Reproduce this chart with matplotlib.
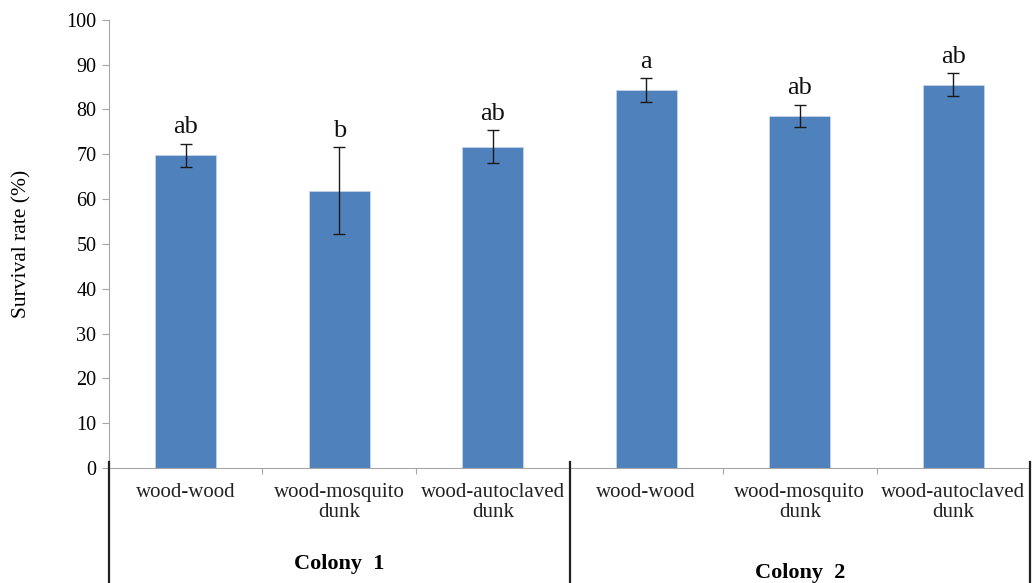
import matplotlib.pyplot as plt
import numpy as np

# values
treatments = ["wood-wood", "wood-mosquito\ndunk", "wood-autoclaved\ndunk",
              "wood-wood", "wood-mosquito\ndunk", "wood-autoclaved\ndunk"]
survival = [69.8, 61.9, 71.7, 84.3, 78.6, 85.5]
errors = [2.6, 9.7, 3.7, 2.7, 2.5, 2.6]
letters = ["ab", "b", "ab", "a", "ab", "ab"]
colonies = ["Colony  1", "Colony  2"]

plt.rcParams["font.family"] = ["Liberation Serif", "DejaVu Serif"]

fig = plt.figure(figsize=(10.32, 5.83), dpi=100)
ax = fig.add_axes([0.1056, 0.197, 0.8925, 0.769])

x = np.arange(len(survival))
ax.bar(x, survival, width=0.4, color="#4f81bd", edgecolor="#c5d5ea", linewidth=0.6, zorder=2)
ax.errorbar(x, survival, yerr=errors, fmt="none", ecolor="#1a1a1a", elinewidth=1,
            capsize=4, capthick=1, zorder=3)
for xi, v, e, lab in zip(x, survival, errors, letters):
    ax.text(xi, v + e + 1.2, lab, ha="center", va="bottom", fontsize=19, color="#111111")

ax.set_xlim(-0.5, len(survival) - 0.5)
ax.set_ylim(0, 100)
ax.set_yticks(np.arange(0, 101, 10))
ax.tick_params(axis="y", direction="out", length=5, color="#a6a6a6", labelsize=14.5, pad=4)
ax.set_ylabel("Survival rate (%)", fontsize=15.5)
ax.yaxis.set_label_coords(-0.084, 0.5)

# category boundaries as x ticks, labels centred under bars
ax.set_xticks(np.arange(0.5, len(survival) - 1, 1))
ax.set_xticklabels([])
ax.tick_params(axis="x", direction="out", length=4, color="#a6a6a6")
for xi, t in zip(x, treatments):
    ax.text(xi, -3.4, t, ha="center", va="top", fontsize=15, linespacing=1.05,
            transform=ax.transData, color="#222222")

for side in ["top", "right"]:
    ax.spines[side].set_visible(False)
ax.spines["left"].set_color("#a6a6a6")
ax.spines["bottom"].set_color("#a6a6a6")

# group divider lines and colony labels below the axis
trans = ax.get_xaxis_transform()
for xd in [-0.5, 2.5, 5.5]:
    ax.plot([xd, xd], [0.013, -0.27], transform=trans, color="#222222", lw=1.6,
            clip_on=False, zorder=4)
ax.text(1.0, -0.213, colonies[0], transform=trans, ha="center", va="center",
        fontsize=16, fontweight="bold")
ax.text(4.0, -0.234, colonies[1], transform=trans, ha="center", va="center",
        fontsize=16, fontweight="bold")

fig.savefig("out.png", dpi=100)
